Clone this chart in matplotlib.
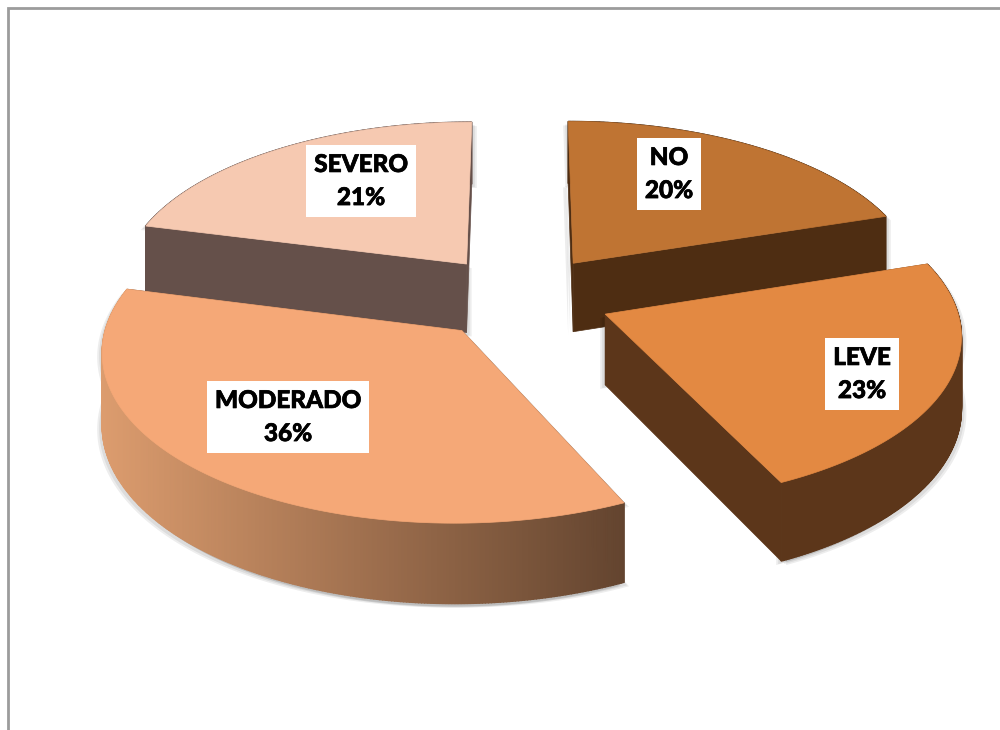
import numpy as np
from matplotlib import pyplot as plt
from matplotlib import patheffects
from matplotlib.colors import to_rgb

categories = ['NO', 'LEVE', 'MODERADO', 'SEVERO']
values = [20, 23, 36, 21]
top_colors = ['#BF7433', '#E38942', '#F5A877', '#F6C9B1']
cut_colors = ['#4E2D12', '#5C361A', '#65452F', '#65504A']
side_left = ['#4E2D12', '#5C361A', '#DC9C6E', '#65504A']
side_right = ['#4E2D12', '#5C361A', '#63442F', '#65504A']
label_pos = [(669, 174), (862, 374), (288, 417), (361, 181)]

# pie geometry in pixels, camera pitch gives the wider front
cx, cy = 521, 297
rx, ry = 349, 164
persp = 0.108
depth = 70
explode = 0.26


def project(X, Y):
    w = 1 + persp * Y
    return cx + rx * X / w, cy - ry * Y / w, depth / w


def slice_geom(a0, a1):
    mid = 0.5 * (a0 + a1)
    ox, oy = explode * np.sin(mid), explode * np.cos(mid)
    th = np.linspace(a0, a1, 300)
    X = np.r_[ox, ox + np.sin(th)]
    Y = np.r_[oy, oy + np.cos(th)]
    return project(X, Y)


fig = plt.figure(figsize=(10, 7.3), dpi=100)
ax = fig.add_axes([0, 0, 1, 1])
ax.set_xlim(0, 1000)
ax.set_ylim(730, 0)
ax.axis('off')

ax.plot([8, 8, 1000], [730, 8, 8], color='#9C9C9C', lw=2, solid_joinstyle='miter')

edges = np.r_[0, np.cumsum(values)] / np.sum(values) * 2 * np.pi
geoms = [slice_geom(edges[i], edges[i + 1]) for i in range(len(values))]

# back slices first
for i in [3, 0, 2, 1]:
    x, y, h = geoms[i]
    outline_x = np.r_[x, x[::-1]]
    outline_y = np.r_[y, (y + h)[::-1]]

    # soft shadow
    for sx, sy in [(-5, 4), (5, 4), (-3, 3), (3, 3)]:
        ax.fill(outline_x + sx, outline_y + sy, color='#000000', alpha=0.07, lw=0)

    # cut faces
    ax.fill([x[0], x[1], x[1], x[0]], [y[0], y[1], y[1] + h[1], y[0] + h[0]],
            color=cut_colors[i], lw=0.5)
    ax.fill([x[0], x[-1], x[-1], x[0]], [y[0], y[-1], y[-1] + h[-1], y[0] + h[0]],
            color=cut_colors[i], lw=0.5)

    # outer wall, strip by strip for the gradient
    c0 = np.array(to_rgb(side_left[i]))
    c1 = np.array(to_rgb(side_right[i]))
    xa, xb = x[1:].min(), x[1:].max()
    for j in range(1, len(x) - 1):
        t = (0.5 * (x[j] + x[j + 1]) - xa) / (xb - xa)
        ax.fill([x[j], x[j + 1], x[j + 1], x[j]],
                [y[j], y[j + 1], y[j + 1] + h[j + 1], y[j] + h[j]],
                color=c0 + (c1 - c0) * t, lw=1)

    ax.fill(x, y, color=top_colors[i], lw=0.5)

for name, val, (lx, ly) in zip(categories, values, label_pos):
    t = ax.text(lx, ly, '%s\n%d%%' % (name, val), ha='center', va='center',
                family='Lato', weight='black', fontsize=17.5, linespacing=1.53, color='black',
                bbox=dict(facecolor='white', edgecolor='none', pad=6))
    t.set_path_effects([patheffects.withStroke(linewidth=0.5, foreground='black')])

plt.savefig('out.png', dpi=100)
